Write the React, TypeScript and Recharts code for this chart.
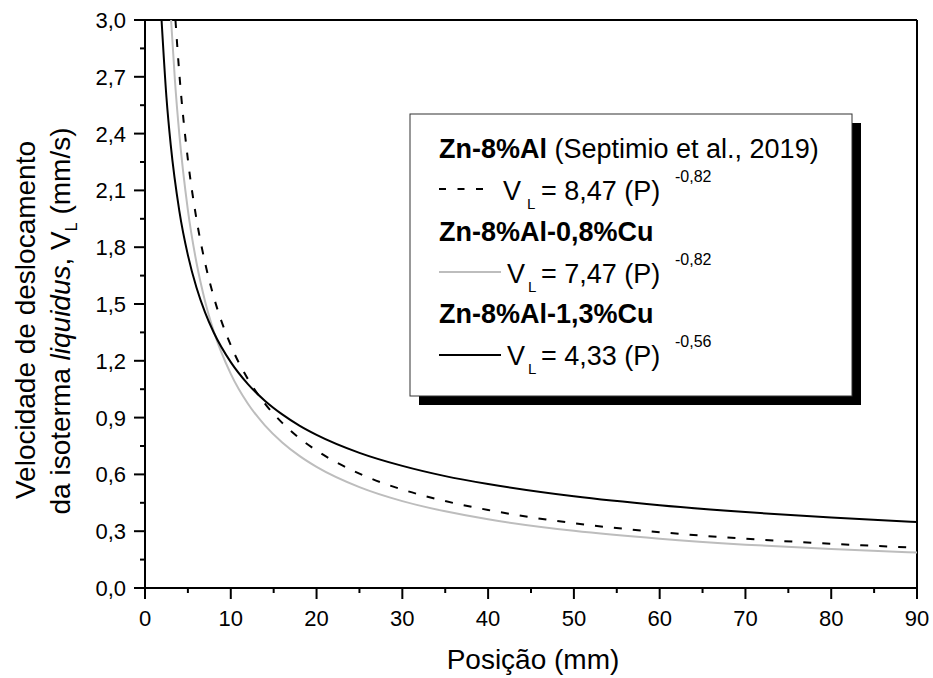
import React from 'react';
import { LineChart, Line, XAxis, YAxis, ReferenceLine } from 'recharts';

// Zn-8%Al (Septimio et al., 2019) - dashed
const zn8AlPos = [3.55, 4, 5, 6, 7, 8, 10, 12, 14, 16, 18, 20, 25, 30, 35, 40, 50, 60, 70, 80, 90];
const zn8AlVel = [3.0, 2.718, 2.263, 1.949, 1.718, 1.54, 1.282, 1.103, 0.973, 0.872, 0.791, 0.726, 0.604, 0.52, 0.459, 0.412, 0.342, 0.295, 0.26, 0.234, 0.212];

// Zn-8%Al-0,8%Cu - grey
const cu08Pos = [3.04, 3.5, 4, 5, 6, 7, 8, 10, 12, 14, 16, 18, 20, 25, 30, 35, 40, 50, 60, 70, 80, 90];
const cu08Vel = [3.0, 2.674, 2.397, 1.996, 1.719, 1.515, 1.358, 1.131, 0.973, 0.858, 0.769, 0.698, 0.64, 0.533, 0.459, 0.405, 0.363, 0.302, 0.26, 0.229, 0.206, 0.187];

// Zn-8%Al-1,3%Cu - black
const cu13Pos = [1.93, 2.5, 3, 4, 5, 6, 7, 8, 10, 12, 14, 16, 18, 20, 25, 30, 35, 40, 50, 60, 70, 80, 90];
const cu13Vel = [3.0, 2.592, 2.34, 1.992, 1.758, 1.587, 1.456, 1.351, 1.193, 1.077, 0.988, 0.917, 0.858, 0.809, 0.714, 0.645, 0.591, 0.549, 0.484, 0.437, 0.401, 0.372, 0.348];

const xTicks = [0, 5, 10, 15, 20, 25, 30, 35, 40, 45, 50, 55, 60, 65, 70, 75, 80, 85, 90];
const yTicks = [0, 0.15, 0.3, 0.45, 0.6, 0.75, 0.9, 1.05, 1.2, 1.35, 1.5, 1.65, 1.8, 1.95, 2.1, 2.25, 2.4, 2.55, 2.7, 2.85, 3.0];

const toRows = (pos: number[], vel: number[]) => pos.map((p, i) => ({ p, v: vel[i] }));

const FONT = 'Arial, "Liberation Sans", sans-serif';

const XTick = (props: any) => {
  const { x, y, payload } = props;
  const major = payload.value % 10 === 0;
  return (
    <g>
      <line x1={x} y1={y} x2={x} y2={y + (major ? 11 : 5)} stroke="#000" strokeWidth={2} />
      {major && (
        <text x={x} y={y + 38} textAnchor="middle" fontSize={22} fontFamily={FONT} fill="#000">
          {payload.value}
        </text>
      )}
    </g>
  );
};

const YTick = (props: any) => {
  const { x, y, payload } = props;
  const major = Math.round(payload.value * 100) % 30 === 0;
  return (
    <g>
      <line x1={x} y1={y} x2={x - (major ? 11 : 5)} y2={y} stroke="#000" strokeWidth={2} />
      {major && (
        <text x={x - 19} y={y + 8} textAnchor="end" fontSize={22} fontFamily={FONT} fill="#000">
          {payload.value.toFixed(1).replace('.', ',')}
        </text>
      )}
    </g>
  );
};

export default function App() {
  return (
    <div style={{ position: 'absolute', left: 0, top: 0, width: 933, height: 678, background: '#fff' }}>
      <LineChart width={933} height={678} margin={{ top: 20, right: 16, bottom: 60, left: 65 }}>
        <XAxis
          type="number"
          dataKey="p"
          domain={[0, 90]}
          ticks={xTicks}
          interval={0}
          height={30}
          tickSize={0}
          tickMargin={0}
          tickLine={false}
          tick={<XTick />}
          axisLine={{ stroke: '#000', strokeWidth: 2 }}
        />
        <YAxis
          type="number"
          domain={[0, 3]}
          ticks={yTicks}
          interval={0}
          width={80}
          tickSize={0}
          tickMargin={0}
          tickLine={false}
          tick={<YTick />}
          axisLine={{ stroke: '#000', strokeWidth: 2 }}
        />
        <ReferenceLine y={3} stroke="#000" strokeWidth={2} />
        <ReferenceLine x={90} stroke="#000" strokeWidth={2} />
        <Line data={toRows(cu08Pos, cu08Vel)} dataKey="v" type="monotone" stroke="#bdbdbd" strokeWidth={2} dot={false} isAnimationActive={false} />
        <Line data={toRows(zn8AlPos, zn8AlVel)} dataKey="v" type="monotone" stroke="#000" strokeWidth={2} strokeDasharray="8 11" dot={false} isAnimationActive={false} />
        <Line data={toRows(cu13Pos, cu13Vel)} dataKey="v" type="monotone" stroke="#000" strokeWidth={2} dot={false} isAnimationActive={false} />
      </LineChart>
      <svg width={933} height={678} style={{ position: 'absolute', left: 0, top: 0, pointerEvents: 'none' }} fontFamily={FONT} fill="#000">
        {/* axis titles */}
        <text x={533} y={669} textAnchor="middle" fontSize={28}>Posição (mm)</text>
        <text transform="translate(35,320) rotate(-90)" textAnchor="middle" fontSize={28}>Velocidade de deslocamento</text>
        <text transform="translate(70,321) rotate(-90)" textAnchor="middle" fontSize={28}>
          da isoterma <tspan fontStyle="italic">liquidus</tspan>,  V
          <tspan fontSize={16} dy={7}>L</tspan>
          <tspan dy={-7}> (mm/s)</tspan>
        </text>

        {/* legend box */}
        <rect x={419} y={123} width={442} height={282} fill="#000" />
        <rect x={410} y={114} width={442} height={282} fill="#fff" stroke="#333" strokeWidth={1} />

        <text x={439} y={158} fontSize={27}>
          <tspan fontWeight="bold">Zn-8%Al</tspan> (Septimio et al., 2019)
        </text>
        <line x1={439} y1={189} x2={484} y2={189} stroke="#000" strokeWidth={2} strokeDasharray="7 11.5" />
        <text x={503} y={200} fontSize={27}>V</text>
        <text x={527} y={209} fontSize={15}>L</text>
        <text x={541} y={200} fontSize={27}>= 8,47 (P)</text>
        <text x={675} y={182} fontSize={16}>-0,82</text>

        <text x={439} y={241} fontSize={27} fontWeight="bold">Zn-8%Al-0,8%Cu</text>
        <line x1={439} y1={272} x2={501} y2={272} stroke="#bdbdbd" strokeWidth={2} />
        <text x={507} y={283} fontSize={27}>V</text>
        <text x={528} y={292} fontSize={15}>L</text>
        <text x={541} y={283} fontSize={27}>= 7,47 (P)</text>
        <text x={675} y={265} fontSize={16}>-0,82</text>

        <text x={439} y={323} fontSize={27} fontWeight="bold">Zn-8%Al-1,3%Cu</text>
        <line x1={439} y1={355} x2={501} y2={355} stroke="#000" strokeWidth={2} />
        <text x={507} y={365} fontSize={27}>V</text>
        <text x={528} y={374} fontSize={15}>L</text>
        <text x={541} y={365} fontSize={27}>= 4,33 (P)</text>
        <text x={675} y={347} fontSize={16}>-0,56</text>
      </svg>
    </div>
  );
}
